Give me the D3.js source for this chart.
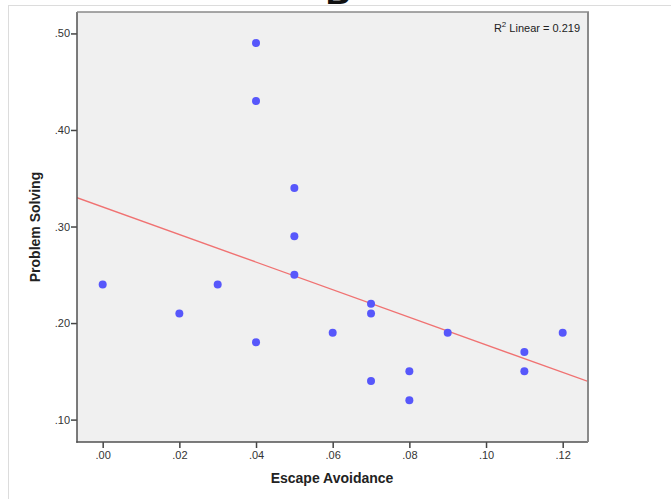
<!DOCTYPE html>
<html>
<head>
<meta charset="utf-8">
<script src="https://cdn.jsdelivr.net/npm/d3@7"></script>
<style>
  body { margin: 0; background: #fff; }
  svg { display: block; font-family: "Liberation Sans", Arial, sans-serif; }
</style>
</head>
<body>
<svg width="671" height="499"></svg>
<script>
// escape avoidance vs problem solving, one dot per subject
const escapeAvoidance = [0.00, 0.02, 0.03, 0.04, 0.04, 0.04, 0.05, 0.05, 0.05, 0.06,
                         0.07, 0.07, 0.07, 0.08, 0.08, 0.09, 0.11, 0.11, 0.12];
const problemSolving  = [0.24, 0.21, 0.24, 0.49, 0.43, 0.18, 0.34, 0.29, 0.25, 0.19,
                         0.22, 0.21, 0.14, 0.15, 0.12, 0.19, 0.17, 0.15, 0.19];
const xTicks = [0, 0.02, 0.04, 0.06, 0.08, 0.10, 0.12];
const yTicks = [0.10, 0.20, 0.30, 0.40, 0.50];

var svg = d3.select("svg");

// plot box (note: "top" is taken by window.top, so use other names)
var boxL = 77, boxR = 588, boxT = 12, boxB = 442;

var x = d3.scaleLinear().domain([-0.0067, 0.1266]).range([boxL, boxR]);
var y = d3.scaleLinear().domain([0.0768, 0.5222]).range([boxB, boxT]);

var fmt = function(d) { return d3.format(".2f")(d).replace(/^0/, ""); };

// outer frame of the figure
svg.append("rect")
    .attr("x", 8.5).attr("y", 5.5)
    .attr("width", 700).attr("height", 600)
    .style("fill", "none")
    .style("stroke", "#dcdcdc");

// panel letter, mostly cut off at the top
svg.append("text")
    .attr("x", 338).attr("y", 4)
    .attr("text-anchor", "middle")
    .style("font-size", "34px")
    .style("font-weight", "bold")
    .style("fill", "#111")
    .text("B");

svg.append("rect")
    .attr("x", boxL).attr("y", boxT)
    .attr("width", boxR - boxL).attr("height", boxB - boxT)
    .style("fill", "#f0f0f0");

// axes
var xAxis = svg.append("g")
    .attr("transform", "translate(0," + boxB + ")")
    .call(d3.axisBottom(x).tickValues(xTicks).tickFormat(fmt).tickSize(6).tickSizeOuter(0));
var yAxis = svg.append("g")
    .attr("transform", "translate(" + boxL + ",0)")
    .call(d3.axisLeft(y).tickValues(yTicks).tickFormat(fmt).tickSize(6).tickSizeOuter(0));

[xAxis, yAxis].forEach(function(g) {
    g.select(".domain").remove();
    g.selectAll(".tick line").style("stroke", "#444").style("stroke-width", 1.5);
    g.selectAll(".tick text")
        .style("font-family", "'Liberation Sans', Arial, sans-serif")
        .style("font-size", "11px")
        .style("fill", "#333");
});
xAxis.selectAll(".tick text").attr("y", 9);
yAxis.selectAll(".tick text").attr("x", -7);

// regression line (least squares from the data)
var n = escapeAvoidance.length;
var mx = d3.mean(escapeAvoidance), my = d3.mean(problemSolving);
var sxy = 0, sxx = 0, syy = 0;
for (var i = 0; i < n; i++) {
    sxy += (escapeAvoidance[i] - mx) * (problemSolving[i] - my);
    sxx += (escapeAvoidance[i] - mx) * (escapeAvoidance[i] - mx);
    syy += (problemSolving[i] - my) * (problemSolving[i] - my);
}
var slope = sxy / sxx, intercept = my - slope * mx;
var r2 = sxy * sxy / (sxx * syy);

svg.append("clipPath").attr("id", "plotclip")
  .append("rect")
    .attr("x", boxL).attr("y", boxT)
    .attr("width", boxR - boxL).attr("height", boxB - boxT);

var xd = x.domain();
svg.append("line")
    .attr("clip-path", "url(#plotclip)")
    .attr("x1", x(xd[0])).attr("y1", y(intercept + slope * xd[0]))
    .attr("x2", x(xd[1])).attr("y2", y(intercept + slope * xd[1]))
    .style("stroke", "#f07272")
    .style("stroke-width", 1.4);

// points
svg.append("g")
    .selectAll("circle")
    .data(d3.range(n))
    .enter().append("circle")
        .attr("cx", function(i) { return x(escapeAvoidance[i]); })
        .attr("cy", function(i) { return y(problemSolving[i]); })
        .attr("r", 4)
        .style("fill", "#5757fb");

// box edges: left/bottom darker, top/right lighter
svg.append("line").attr("x1", boxL).attr("x2", boxL).attr("y1", boxT).attr("y2", boxB + 0.75)
    .style("stroke", "#505050").style("stroke-width", 1.5);
svg.append("line").attr("x1", boxL - 0.75).attr("x2", boxR).attr("y1", boxB).attr("y2", boxB)
    .style("stroke", "#505050").style("stroke-width", 1.5);
svg.append("line").attr("x1", boxL).attr("x2", boxR + 1).attr("y1", boxT).attr("y2", boxT)
    .style("stroke", "#8a8a8a").style("stroke-width", 1.5);
svg.append("line").attr("x1", boxR).attr("x2", boxR).attr("y1", boxT).attr("y2", boxB)
    .style("stroke", "#8a8a8a").style("stroke-width", 2);

// R squared note
var note = svg.append("text")
    .attr("x", 580).attr("y", 32)
    .attr("text-anchor", "end")
    .style("font-size", "11px")
    .style("fill", "#222");
note.append("tspan").text("R");
note.append("tspan").attr("dy", -5).style("font-size", "8px").text("2");
note.append("tspan").attr("dy", 5).text(" Linear = " + d3.format(".3f")(r2));

// axis titles
svg.append("text")
    .attr("x", 332).attr("y", 483)
    .attr("text-anchor", "middle")
    .style("font-size", "14px")
    .style("font-weight", "bold")
    .style("fill", "#222")
    .text("Escape Avoidance");

svg.append("text")
    .attr("transform", "translate(40,227) rotate(-90)")
    .attr("text-anchor", "middle")
    .style("font-size", "14px")
    .style("font-weight", "bold")
    .style("fill", "#222")
    .text("Problem Solving");
</script>
</body>
</html>
